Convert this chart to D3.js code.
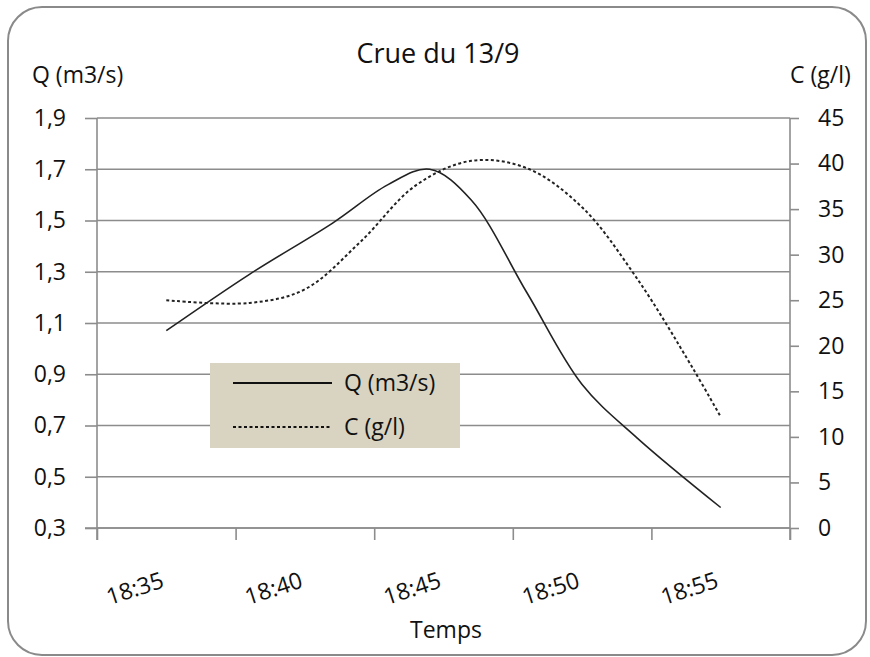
<!DOCTYPE html>
<html lang="fr">
<meta charset="utf-8">
<script src="https://cdn.jsdelivr.net/npm/d3@7"></script>
<style>
  body { margin: 0; background: #fff; }
  svg text { font-family: "Open Sans", sans-serif; fill: #111; }
  .grid line { stroke: #8c8c8c; stroke-width: 1.6; }
  .axis path, .axis line { stroke: #8c8c8c; stroke-width: 1.6; }
</style>
<body>
<svg width=870 height=657></svg>
<script>
var title = "Crue du 13/9";
var xTitle = "Temps";
var qTitle = "Q (m3/s)";
var cTitle = "C (g/l)";

// category labels on the time axis
var timeLabels = ["18:35", "18:40", "18:45", "18:50", "18:55"];

// left axis ticks (debit) and right axis ticks (concentration)
var qTicks = [0.3, 0.5, 0.7, 0.9, 1.1, 1.3, 1.5, 1.7, 1.9];
var cTicks = [0, 5, 10, 15, 20, 25, 30, 35, 40, 45];

// debit Q (m3/s)
var qTimes  = ["18:35:00", "18:38:00", "18:41:00", "18:43:00", "18:44:30", "18:46:00", "18:48:00", "18:50:00", "18:52:00", "18:55:00"];
var qValues = [1.07, 1.29, 1.49, 1.64, 1.70, 1.58, 1.22, 0.86, 0.65, 0.38];

// concentration C (g/l)
var cTimes  = ["18:35:00", "18:38:00", "18:40:00", "18:42:00", "18:44:00", "18:46:00", "18:48:00", "18:50:00", "18:52:00", "18:54:00", "18:55:00"];
var cValues = [25, 24.7, 26.2, 31.4, 37.6, 40.3, 39.5, 35.2, 27.3, 17.5, 12.2];

var parseT = d3.timeParse("%H:%M:%S");
var parseL = d3.timeParse("%H:%M");

var svg = d3.select("svg");

var pLeft = 97, pRight = 790, pTop = 118, pBottom = 528;

// outer frame
svg.append("rect")
  .attr("x", 8).attr("y", 7).attr("width", 858).attr("height", 648)
  .attr("rx", 34).attr("ry", 34)
  .attr("fill", "#fff").attr("stroke", "#8a8a8a").attr("stroke-width", 2);

var labelTimes = timeLabels.map(parseL);
var half = 150 * 1000; // half a category (2.5 min)
var x = d3.scaleTime()
  .domain([new Date(+labelTimes[0] - half), new Date(+labelTimes[labelTimes.length - 1] + half)])
  .range([pLeft, pRight]);
var tickTimes = labelTimes.map(function(t) { return new Date(+t - half); })
  .concat([new Date(+labelTimes[labelTimes.length - 1] + half)]);

var yQ = d3.scaleLinear().domain([0.3, 1.9]).range([pBottom, pTop]);
var yC = d3.scaleLinear().domain([0, 45]).range([pBottom, pTop]);

var fr = d3.formatLocale({decimal: ",", thousands: " ", grouping: [3], currency: ["", " €"]});

// horizontal gridlines
svg.append("g").attr("class", "grid")
  .selectAll("line").data(qTicks).enter().append("line")
  .attr("x1", pLeft).attr("x2", pRight)
  .attr("y1", function(d) { return yQ(d); })
  .attr("y2", function(d) { return yQ(d); });

var axL = svg.append("g").attr("class", "axis")
  .attr("transform", "translate(" + pLeft + ",0)")
  .call(d3.axisLeft(yQ).tickValues(qTicks).tickSize(12).tickSizeOuter(0).tickFormat(fr.format(".1f")));
axL.select(".domain").attr("d", "M0," + pTop + "V" + (pBottom + 12));
axL.selectAll("text").attr("x", -31).attr("font-size", 23).attr("font-family", null);

var axR = svg.append("g").attr("class", "axis")
  .attr("transform", "translate(" + pRight + ",0)")
  .call(d3.axisRight(yC).tickValues(cTicks).tickSize(9).tickSizeOuter(0));
axR.select(".domain").attr("d", "M0," + pTop + "V" + (pBottom + 12));
axR.selectAll("text").attr("x", 28).attr("font-size", 23).attr("font-family", null);

var axB = svg.append("g").attr("class", "axis")
  .attr("transform", "translate(0," + pBottom + ")")
  .call(d3.axisBottom(x).tickValues(tickTimes).tickSize(12).tickSizeOuter(0).tickFormat(""));
axB.select(".domain").attr("d", "M" + (pLeft - 12) + ",0H" + pRight);

svg.selectAll("text.xlab").data(timeLabels).enter().append("text")
  .attr("class", "xlab")
  .attr("text-anchor", "end")
  .attr("font-size", 23)
  .attr("transform", function(d) { return "translate(" + (x(parseL(d)) - 1) + ",587) rotate(-18)"; })
  .text(function(d) { return d; });

// legend box (drawn over the gridlines)
var leg = svg.append("g").attr("transform", "translate(210,363)");
leg.append("rect").attr("width", 250).attr("height", 85).attr("fill", "#d9d4c1");

// series
var qData = qTimes.map(function(t, i) { return {t: parseT(t), v: qValues[i]}; });
var cData = cTimes.map(function(t, i) { return {t: parseT(t), v: cValues[i]}; });

var lineQ = d3.line().curve(d3.curveCatmullRom)
  .x(function(d) { return x(d.t); }).y(function(d) { return yQ(d.v); });
var lineC = d3.line().curve(d3.curveCatmullRom)
  .x(function(d) { return x(d.t); }).y(function(d) { return yC(d.v); });

svg.append("path").datum(cData).attr("d", lineC)
  .attr("fill", "none").attr("stroke", "#222").attr("stroke-width", 2)
  .attr("stroke-dasharray", "3,2.5");
svg.append("path").datum(qData).attr("d", lineQ)
  .attr("fill", "none").attr("stroke", "#222").attr("stroke-width", 1.6);

leg.append("line").attr("x1", 23).attr("x2", 122).attr("y1", 20).attr("y2", 20)
  .attr("stroke", "#111").attr("stroke-width", 2);
leg.append("line").attr("x1", 23).attr("x2", 122).attr("y1", 64).attr("y2", 64)
  .attr("stroke", "#111").attr("stroke-width", 2).attr("stroke-dasharray", "3,2.5");
leg.append("text").attr("x", 134).attr("y", 20).attr("dy", "0.35em").attr("font-size", 23).text(qTitle);
leg.append("text").attr("x", 134).attr("y", 64).attr("dy", "0.35em").attr("font-size", 23).text(cTitle);

// titles
svg.append("text").attr("x", 438).attr("y", 63).attr("text-anchor", "middle")
  .attr("font-size", 27).text(title);
svg.append("text").attr("x", 32).attr("y", 83).attr("font-size", 23).text(qTitle);
svg.append("text").attr("x", 790).attr("y", 83).attr("font-size", 23).text(cTitle);
svg.append("text").attr("x", 446).attr("y", 638).attr("text-anchor", "middle")
  .attr("font-size", 23).text(xTitle);
</script>
</body>
</html>
